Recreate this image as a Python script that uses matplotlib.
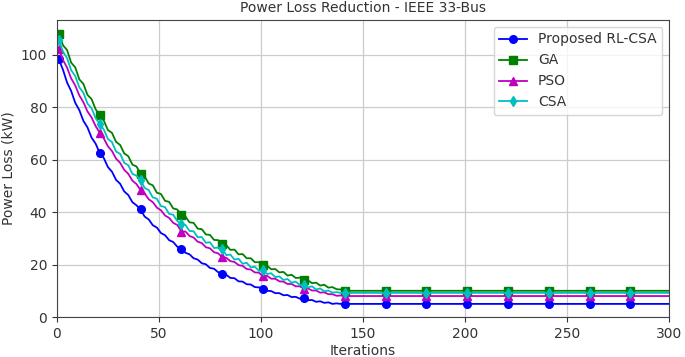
import numpy as np
import matplotlib
matplotlib.use("Agg")
import matplotlib.pyplot as plt

# iterations where the curves were sampled (every 2 iters while converging,
# then only at the marker positions once every method has levelled off)
ITERS = list(range(1, 142, 2)) + [161, 181, 201, 221, 241, 261, 281, 300]
MARK_AT = list(range(1, 300, 20))

rl_csa = [98.2, 94.3, 89.4, 86.2, 81.7, 78.9, 74.8, 72.3, 68.4, 66.1,
          62.5, 60.6, 57.2, 55.4, 52.3, 50.8, 47.9, 46.5, 43.8, 42.6,
          41.0, 38.3, 37.2, 35.0, 34.1, 32.0, 31.2, 29.3, 28.6, 26.8,
          26.1, 24.5, 23.9, 22.4, 21.9, 20.5, 20.1, 18.7, 18.4, 17.1,
          16.4, 16.1, 14.9, 14.8, 13.6, 13.5, 12.5, 12.4, 11.4, 11.3,
          10.8, 10.0, 9.9, 9.1, 9.1, 8.3, 8.4, 7.6, 7.7, 7.0,
          7.4, 6.4, 6.5, 5.8, 6.0, 5.4, 5.6, 5.0, 5.2, 5.0,
          5.0, 5.0, 5.0, 5.0, 5.0, 5.0, 5.0, 5.0, 5.0]
ga = [108.1, 103.6, 101.8, 97.0, 95.2, 90.6, 88.9, 84.7, 83.1, 79.2,
      77.0, 74.9, 71.3, 70.2, 66.8, 65.6, 62.4, 61.3, 58.1, 57.4,
      54.7, 53.6, 50.9, 50.2, 47.4, 46.9, 44.3, 43.9, 41.4, 41.0,
      38.8, 38.3, 36.1, 35.9, 33.7, 33.5, 31.5, 31.3, 29.4, 29.3,
      27.7, 27.4, 25.6, 25.7, 23.9, 24.0, 22.4, 22.4, 20.9, 20.9,
      19.7, 19.6, 18.2, 18.3, 17.0, 17.2, 15.8, 16.1, 14.9, 15.0,
      14.0, 14.0, 12.9, 13.1, 12.0, 12.3, 11.2, 11.4, 10.6, 10.5,
      10.0, 10.0, 10.0, 10.0, 10.0, 10.0, 10.0, 10.0, 10.0]
pso = [102.1, 98.0, 95.1, 91.0, 88.3, 84.5, 81.9, 78.4, 76.1, 72.8,
       70.3, 68.1, 65.1, 63.3, 60.4, 58.8, 56.1, 54.6, 52.0, 50.7,
       48.4, 47.1, 44.9, 43.8, 41.7, 40.7, 38.7, 37.8, 35.9, 35.1,
       32.6, 32.6, 30.9, 30.3, 28.7, 28.2, 26.6, 26.2, 24.7, 24.3,
       22.8, 22.6, 21.3, 21.0, 19.8, 19.5, 18.3, 18.1, 17.0, 16.9,
       15.5, 15.7, 14.6, 14.6, 13.6, 13.5, 12.6, 12.6, 11.7, 11.7,
       10.8, 10.9, 10.1, 10.1, 9.3, 9.4, 8.7, 8.7, 8.1, 8.2,
       8.0, 8.0, 8.0, 8.0, 8.0, 8.0, 8.0, 8.0, 8.0]
csa = [105.6, 101.2, 98.7, 94.1, 91.9, 87.6, 85.5, 81.4, 79.6, 75.8,
       73.6, 71.5, 67.9, 66.7, 63.1, 62.2, 58.8, 57.9, 54.6, 53.9,
       52.2, 49.2, 48.4, 45.6, 45.1, 42.3, 41.9, 39.3, 39.0, 36.6,
       35.4, 35.1, 32.8, 32.7, 30.4, 30.5, 28.3, 28.5, 26.3, 26.5,
       26.1, 23.6, 23.8, 21.9, 22.2, 20.3, 20.7, 18.9, 19.2, 17.6,
       17.8, 16.4, 16.7, 15.2, 15.5, 14.1, 14.5, 13.1, 13.5, 12.2,
       12.1, 11.3, 11.7, 10.5, 10.9, 9.8, 10.1, 9.3, 9.5, 9.2,
       9.2, 9.2, 9.2, 9.2, 9.2, 9.2, 9.2, 9.2, 9.2]

SERIES = [
    ("Proposed RL-CSA", rl_csa, "b", "o"),
    ("GA", ga, "g", "s"),
    ("PSO", pso, "m", "^"),
    ("CSA", csa, "c", "d"),
]

TXT = "#333333"
plt.rcParams.update({"font.size": 10, "text.color": TXT,
                     "axes.labelcolor": TXT, "xtick.color": TXT,
                     "ytick.color": TXT, "axes.edgecolor": "#444444"})

x = np.array(ITERS)
marks = list(np.flatnonzero(np.isin(x, MARK_AT)))

fig = plt.figure(figsize=(6.85, 3.57), dpi=100)
ax = fig.add_axes([0.083, 0.112, 0.894, 0.832])
for name, vals, col, mk in SERIES:
    ax.plot(x, vals, color=col, marker=mk, markevery=marks, lw=1.3, ms=5.5,
            label=name)

ax.set_xlim(0, 300)
ax.set_ylim(bottom=0)
ax.grid(True, color="#cccccc", lw=0.9)
ax.set_title("Power Loss Reduction - IEEE 33-Bus", fontsize=10)
ax.set_xlabel("Iterations", labelpad=2)
ax.set_ylabel("Power Loss (kW)")
ax.legend(loc="upper right")

fig.savefig("out.png", dpi=100)
